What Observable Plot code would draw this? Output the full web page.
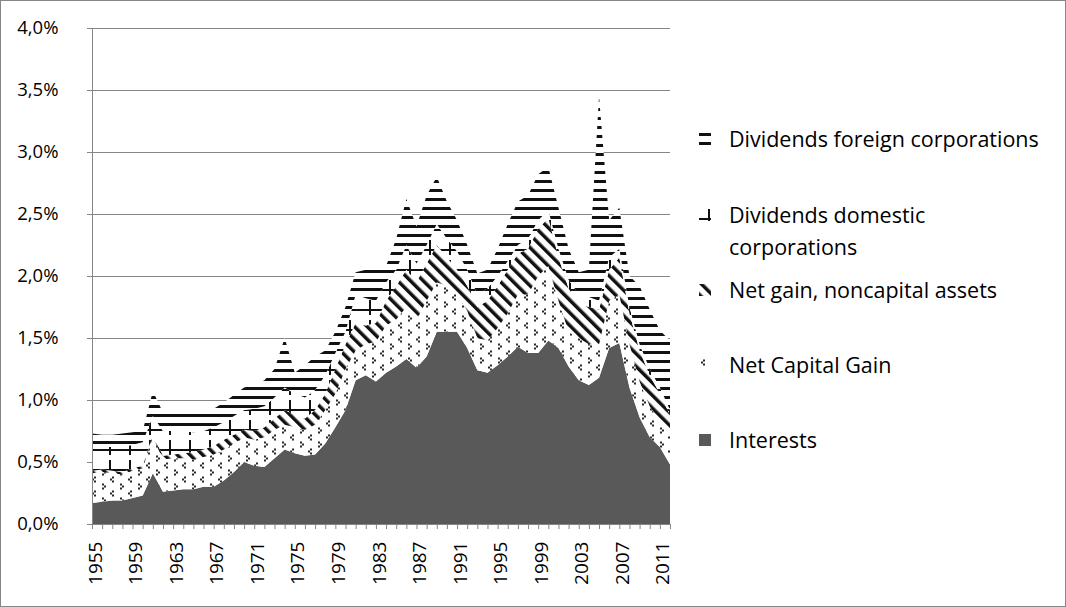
<!DOCTYPE html>
<html><head><meta charset="utf-8">
<script src="https://cdn.jsdelivr.net/npm/d3@7"></script>
<script src="https://cdn.jsdelivr.net/npm/@observablehq/plot@0.6"></script>
<style>
html,body{margin:0;padding:0;background:#fff;}
#wrap{position:relative;width:1066px;height:607px;overflow:hidden;font-family:"Open Sans",sans-serif;background:#fff;}
#chart{position:absolute;left:0;top:0;}
#frame{position:absolute;left:0;top:0;width:1066px;height:607px;box-sizing:border-box;border:1px solid #868686;pointer-events:none;}
.item{position:absolute;left:729px;font-size:21.5px;line-height:32px;color:#000;white-space:nowrap;}
.icon{position:absolute;left:699px;}
</style></head>
<body>
<svg width="0" height="0" style="position:absolute">
<defs>
<pattern id="pFor" patternUnits="userSpaceOnUse" width="9" height="9">
  <rect width="9" height="9" fill="#fff"/>
  <rect y="0" width="9" height="3" fill="#111"/>
</pattern>
<pattern id="pDom" patternUnits="userSpaceOnUse" width="20" height="20">
  <rect width="20" height="20" fill="#fff"/>
  <rect x="0" y="9" width="20" height="2" fill="#111"/>
  <rect x="9" y="0" width="2" height="15" fill="#111"/>
</pattern>
<pattern id="pNon" patternUnits="userSpaceOnUse" width="9" height="9" patternTransform="rotate(-45)">
  <rect width="9" height="9" fill="#fff"/>
  <rect x="0" y="0" width="3.5" height="9" fill="#111"/>
</pattern>
<pattern id="pCap" patternUnits="userSpaceOnUse" width="18" height="14">
  <rect width="18" height="14" fill="#fff"/>
  <g fill="#2a2a2a">
    <rect x="4" y="0.5" width="2" height="2"/><rect x="2" y="2.5" width="2" height="2"/><rect x="4" y="4.5" width="2" height="2"/>
    <rect x="12" y="7.5" width="2" height="2"/><rect x="14" y="9.5" width="2" height="2"/><rect x="12" y="11.5" width="2" height="2"/>
  </g>
</pattern>
</defs>
</svg>
<div id="wrap"><div id="chart"></div><div id="legend"></div><div id="frame"></div></div>
<script>
const years = d3.range(1955, 2013);
const interests = [0.17,0.18,0.19,0.19,0.21,0.23,0.41,0.26,0.27,0.28,
  0.28,0.30,0.30,0.35,0.42,0.50,0.47,0.46,0.53,0.60,
  0.57,0.55,0.56,0.65,0.78,0.92,1.16,1.20,1.15,1.22,
  1.27,1.33,1.26,1.35,1.55,1.55,1.55,1.42,1.24,1.22,
  1.28,1.35,1.43,1.38,1.38,1.48,1.42,1.27,1.16,1.12,
  1.18,1.42,1.46,1.10,0.86,0.70,0.62,0.48];
const netCapitalGain = [0.24,0.24,0.22,0.21,0.22,0.22,0.29,0.26,0.26,0.25,
  0.24,0.24,0.26,0.25,0.23,0.20,0.21,0.24,0.23,0.20,
  0.21,0.21,0.24,0.27,0.27,0.33,0.24,0.25,0.32,0.38,
  0.38,0.42,0.39,0.45,0.40,0.37,0.30,0.30,0.26,0.26,
  0.30,0.35,0.42,0.47,0.62,0.60,0.38,0.28,0.34,0.33,
  0.27,0.38,0.39,0.35,0.29,0.25,0.20,0.24];
const netGainNoncapital = [0.02,0.02,0.02,0.02,0.02,0.02,0.02,0.03,0.03,0.04,
  0.06,0.06,0.07,0.08,0.07,0.06,0.07,0.08,0.09,0.12,
  0.10,0.09,0.12,0.13,0.20,0.20,0.22,0.15,0.15,0.20,
  0.27,0.30,0.30,0.30,0.30,0.23,0.20,0.20,0.25,0.32,
  0.34,0.35,0.33,0.37,0.38,0.39,0.35,0.35,0.28,0.30,
  0.28,0.25,0.30,0.25,0.25,0.25,0.23,0.16];
const dividendsDomestic = [0.19,0.18,0.19,0.20,0.19,0.19,0.15,0.20,0.19,0.18,
  0.16,0.15,0.15,0.14,0.15,0.16,0.18,0.17,0.17,0.18,
  0.17,0.17,0.16,0.15,0.13,0.10,0.23,0.22,0.18,0.15,
  0.13,0.20,0.15,0.15,0.17,0.15,0.15,0.13,0.10,0.10,
  0.08,0.07,0.07,0.08,0.07,0.06,0.07,0.07,0.07,0.08,
  0.07,0.10,0.07,0.05,0.05,0.05,0.05,0.04];
const dividendsForeign = [0.11,0.10,0.10,0.11,0.10,0.09,0.20,0.15,0.15,0.16,
  0.16,0.15,0.15,0.16,0.17,0.18,0.19,0.21,0.23,0.40,
  0.17,0.26,0.27,0.20,0.17,0.20,0.18,0.23,0.25,0.13,
  0.25,0.37,0.30,0.40,0.38,0.30,0.25,0.20,0.17,0.15,
  0.22,0.30,0.35,0.35,0.37,0.35,0.33,0.25,0.18,0.22,
  1.65,0.30,0.33,0.25,0.47,0.48,0.46,0.56];

const seriesNames = ["Interests", "Net Capital Gain", "Net gain, noncapital assets",
  "Dividends domestic corporations", "Dividends foreign corporations"];
const seriesFills = ["#595959", "url(#pCap)", "url(#pNon)", "url(#pDom)", "url(#pFor)"];
const yTicks = [0, 0.5, 1, 1.5, 2, 2.5, 3, 3.5, 4];
const xLabelYears = d3.range(1955, 2013, 4);

const seriesValues = [interests, netCapitalGain, netGainNoncapital, dividendsDomestic, dividendsForeign];
const data = [];
seriesValues.forEach((arr, i) => arr.forEach((v, j) => data.push({year: years[j], value: v, series: seriesNames[i]})));

const chart = Plot.plot({
  width: 690, height: 607,
  marginLeft: 92, marginTop: 28, marginBottom: 83, marginRight: 20,
  style: {fontFamily: "'Open Sans', sans-serif", fontSize: "18px", color: "#000", background: "transparent", overflow: "visible"},
  x: {domain: [1955, 2012]},
  y: {domain: [0, 4]},
  color: {type: "ordinal", domain: seriesNames, range: seriesFills},
  marks: [
    Plot.ruleY(yTicks.filter(v => v > 0), {stroke: "#868686", strokeWidth: 1}),
    Plot.areaY(data, {x: "year", y: "value", z: "series", fill: "series"}),
    Plot.ruleX([1955], {stroke: "#868686"}),
    Plot.ruleY([0], {stroke: "#868686"}),
    Plot.axisY({ticks: yTicks, tickSize: 5, tickPadding: 29, stroke: "#868686", fill: "#000", fontSize: 18.5,
      tickFormat: d => d.toFixed(1).replace(".", ",") + "%", label: null}),
    Plot.axisX({ticks: years, tickSize: 5, stroke: "#868686", tickFormat: () => "", label: null}),
    Plot.axisX({ticks: xLabelYears, tickSize: 0, tickPadding: 17, tickRotate: -90, fill: "#000", fontSize: 19, dx: 3,
      tickFormat: d => String(d), label: null})
  ]
});
document.getElementById("chart").appendChild(chart);

// legend
const legendItems = [
  {label: "Dividends foreign corporations", fill: seriesFills[4], top: 123},
  {label: "Dividends domestic<br>corporations", fill: seriesFills[3], top: 199},
  {label: "Net gain, noncapital assets", fill: seriesFills[2], top: 274},
  {label: "Net Capital Gain", fill: seriesFills[1], top: 349},
  {label: "Interests", fill: seriesFills[0], top: 424}
];
const legend = document.getElementById("legend");
legendItems.forEach(it => {
  const t = document.createElement("div");
  t.className = "item";
  t.style.top = it.top + "px";
  t.innerHTML = it.label;
  legend.appendChild(t);
  const ns = "http://www.w3.org/2000/svg";
  const s = document.createElementNS(ns, "svg");
  s.setAttribute("class", "icon");
  s.setAttribute("width", 12); s.setAttribute("height", 12);
  s.style.top = (it.top + 10) + "px";
  const r = document.createElementNS(ns, "rect");
  r.setAttribute("width", 12); r.setAttribute("height", 12);
  r.setAttribute("fill", it.fill);
  s.appendChild(r);
  legend.appendChild(s);
});
</script>
</body></html>
